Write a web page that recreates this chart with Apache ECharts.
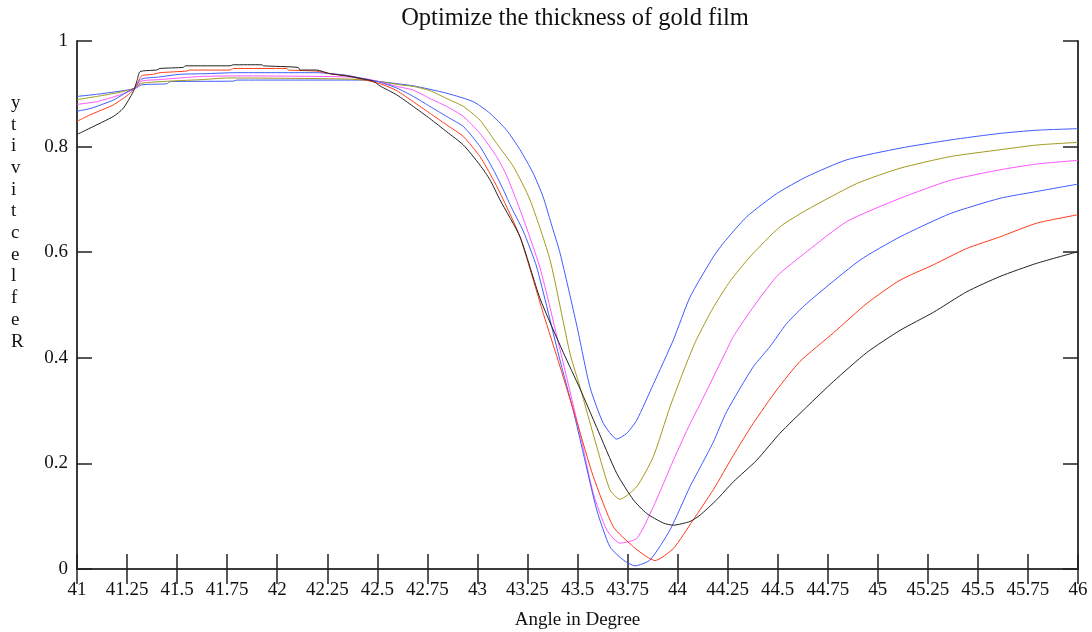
<!DOCTYPE html>
<html>
<head>
<meta charset="utf-8">
<title>Optimize the thickness of gold film</title>
<script src="https://cdn.jsdelivr.net/npm/echarts@6/dist/echarts.min.js"></script>
<style>
  html, body { margin: 0; padding: 0; background: #fff; }
  #chart { width: 1092px; height: 632px; }
</style>
</head>
<body>
<div id="chart"></div>
<script>
// Reflectivity curves vs. incidence angle (degrees), one per gold film thickness.
const angle1 = [41.0, 41.098, 41.215, 41.29, 41.323, 41.448, 41.464, 41.781, 41.798, 42.43, 42.513, 42.68, 42.847, 42.98, 43.063, 43.146, 43.213, 43.278, 43.328, 43.368, 43.413, 43.496, 43.562, 43.629, 43.696, 43.746, 43.796, 43.879, 43.979, 44.062, 44.178, 44.228, 44.345, 44.495, 44.645, 44.845, 45.111, 45.361, 45.61, 45.794, 46.0];
const refl1  = [0.895, 0.899, 0.905, 0.910, 0.917, 0.919, 0.923, 0.924, 0.926, 0.926, 0.923, 0.915, 0.901, 0.885, 0.863, 0.831, 0.794, 0.750, 0.705, 0.655, 0.598, 0.462, 0.345, 0.276, 0.246, 0.257, 0.282, 0.350, 0.434, 0.515, 0.591, 0.617, 0.667, 0.711, 0.743, 0.775, 0.797, 0.8125, 0.825, 0.831, 0.834];

const angle2 = [41.0, 41.098, 41.215, 41.29, 41.323, 41.464, 41.631, 41.748, 42.347, 42.497, 42.613, 42.68, 42.763, 42.847, 42.93, 43.013, 43.096, 43.18, 43.263, 43.363, 43.462, 43.512, 43.596, 43.662, 43.712, 43.796, 43.879, 43.962, 44.045, 44.095, 44.178, 44.262, 44.361, 44.511, 44.645, 44.895, 45.111, 45.361, 45.61, 45.794, 46.0];
const refl2  = [0.889, 0.895, 0.903, 0.911, 0.920, 0.924, 0.927, 0.930, 0.928, 0.924, 0.917, 0.914, 0.906, 0.891, 0.876, 0.850, 0.806, 0.762, 0.699, 0.585, 0.409, 0.345, 0.232, 0.150, 0.132, 0.156, 0.213, 0.307, 0.390, 0.435, 0.495, 0.545, 0.591, 0.648, 0.680, 0.730, 0.759, 0.781, 0.794, 0.803, 0.808];

const angle3 = [41.0, 41.098, 41.215, 41.29, 41.323, 41.415, 41.548, 41.631, 41.798, 42.347, 42.464, 42.597, 42.68, 42.763, 42.847, 42.93, 43.013, 43.096, 43.146, 43.221, 43.313, 43.413, 43.512, 43.579, 43.646, 43.712, 43.796, 43.879, 43.979, 44.062, 44.112, 44.245, 44.278, 44.361, 44.495, 44.645, 44.845, 45.111, 45.361, 45.61, 45.794, 46.0];
const refl3  = [0.880, 0.885, 0.898, 0.910, 0.924, 0.927, 0.931, 0.933, 0.934, 0.932, 0.927, 0.914, 0.907, 0.891, 0.876, 0.857, 0.825, 0.781, 0.745, 0.672, 0.570, 0.415, 0.257, 0.143, 0.074, 0.049, 0.058, 0.118, 0.206, 0.275, 0.312, 0.415, 0.440, 0.487, 0.554, 0.601, 0.658, 0.702, 0.736, 0.756, 0.767, 0.774];

const angle4 = [41.0, 41.065, 41.181, 41.248, 41.29, 41.323, 41.415, 41.514, 41.631, 41.798, 42.197, 42.347, 42.464, 42.513, 42.597, 42.68, 42.763, 42.847, 42.93, 43.013, 43.08, 43.13, 43.163, 43.229, 43.296, 43.412, 43.479, 43.529, 43.596, 43.662, 43.729, 43.787, 43.862, 43.962, 44.062, 44.112, 44.178, 44.245, 44.378, 44.461, 44.545, 44.645, 44.911, 45.111, 45.361, 45.61, 45.794, 46.0];
const refl4  = [0.867, 0.872, 0.888, 0.903, 0.912, 0.928, 0.932, 0.937, 0.938, 0.940, 0.940, 0.935, 0.926, 0.922, 0.911, 0.895, 0.876, 0.857, 0.838, 0.800, 0.756, 0.718, 0.690, 0.640, 0.572, 0.396, 0.300, 0.219, 0.112, 0.042, 0.017, 0.006, 0.017, 0.074, 0.156, 0.192, 0.240, 0.298, 0.383, 0.421, 0.465, 0.503, 0.585, 0.629, 0.673, 0.702, 0.715, 0.729];

const angle5 = [41.0, 41.065, 41.181, 41.265, 41.298, 41.323, 41.381, 41.415, 41.548, 41.564, 41.764, 41.781, 42.047, 42.055, 42.197, 42.264, 42.347, 42.464, 42.53, 42.597, 42.68, 42.763, 42.847, 42.93, 43.013, 43.08, 43.13, 43.213, 43.329, 43.413, 43.496, 43.579, 43.679, 43.779, 43.846, 43.887, 43.979, 44.078, 44.178, 44.278, 44.378, 44.495, 44.611, 44.778, 44.945, 45.111, 45.277, 45.444, 45.61, 45.794, 46.0];
const refl5  = [0.848, 0.860, 0.879, 0.901, 0.917, 0.934, 0.937, 0.940, 0.943, 0.945, 0.945, 0.948, 0.948, 0.945, 0.943, 0.938, 0.934, 0.924, 0.917, 0.906, 0.885, 0.863, 0.841, 0.819, 0.781, 0.737, 0.699, 0.629, 0.484, 0.383, 0.280, 0.175, 0.080, 0.042, 0.023, 0.016, 0.039, 0.093, 0.150, 0.215, 0.276, 0.339, 0.393, 0.447, 0.503, 0.547, 0.576, 0.607, 0.629, 0.655, 0.671];

const angle6 = [41.0, 41.065, 41.181, 41.23, 41.281, 41.30, 41.315, 41.398, 41.415, 41.531, 41.54, 41.764, 41.781, 41.923, 41.931, 42.105, 42.114, 42.197, 42.264, 42.347, 42.43, 42.48, 42.513, 42.597, 42.68, 42.763, 42.847, 42.93, 43.013, 43.063, 43.113, 43.213, 43.313, 43.429, 43.512, 43.596, 43.696, 43.779, 43.846, 43.929, 43.979, 44.062, 44.112, 44.195, 44.278, 44.395, 44.511, 44.645, 44.778, 44.945, 45.111, 45.277, 45.444, 45.61, 45.794, 46.0];
const refl6  = [0.823, 0.835, 0.857, 0.872, 0.904, 0.925, 0.942, 0.945, 0.948, 0.950, 0.953, 0.953, 0.955, 0.955, 0.953, 0.950, 0.945, 0.945, 0.938, 0.934, 0.928, 0.924, 0.915, 0.898, 0.876, 0.853, 0.828, 0.803, 0.765, 0.737, 0.699, 0.629, 0.512, 0.410, 0.342, 0.268, 0.181, 0.131, 0.105, 0.087, 0.083, 0.090, 0.102, 0.131, 0.165, 0.206, 0.257, 0.307, 0.355, 0.410, 0.452, 0.486, 0.525, 0.554, 0.579, 0.601];

const curveColors = ['#3d5cff', '#a39a1c', '#ff55ff', '#3d5cff', '#ff3a1a', '#222222'];

const xTickStep = 0.25;
const yTickStep = 0.2;
const titleText = 'Optimize the thickness of gold film';
const xName = 'Angle in Degree';
const yName = 'Reflectivity';

const FONT = "'Liberation Serif', 'Times New Roman', serif";

const curves = [
  [angle1, refl1], [angle2, refl2], [angle3, refl3],
  [angle4, refl4], [angle5, refl5], [angle6, refl6]
];

const chart = echarts.init(document.getElementById('chart'), null, { renderer: 'canvas' });

const axisLine = { show: true, lineStyle: { color: '#3a3a3a', width: 2 } };
const axisTick = { show: true, inside: true, length: 15, lineStyle: { color: '#222', width: 1.5 } };

chart.setOption({
  animation: false,
  backgroundColor: '#ffffff',
  grid: { left: 77, right: 14, top: 41, bottom: 63, containLabel: false, outerBoundsMode: 'none' },
  xAxis: [
    {
      type: 'value', min: 41, max: 46, interval: xTickStep, position: 'bottom',
      name: xName, nameLocation: 'middle', nameGap: 42,
      nameTextStyle: { fontFamily: FONT, fontSize: 19, color: '#111' },
      axisLine, axisTick,
      axisLabel: { fontFamily: FONT, fontSize: 19, color: '#111', margin: 12 },
      splitLine: { show: false }
    },
    {
      type: 'value', min: 41, max: 46, interval: xTickStep, position: 'top',
      axisLine, axisTick, axisLabel: { show: false }, splitLine: { show: false }
    }
  ],
  yAxis: [
    {
      type: 'value', min: 0, max: 1, interval: yTickStep, position: 'left',
      axisLine, axisTick,
      axisLabel: { fontFamily: FONT, fontSize: 19, color: '#111', margin: 9 },
      splitLine: { show: false }
    },
    {
      type: 'value', min: 0, max: 1, interval: yTickStep, position: 'right',
      axisLine, axisTick, axisLabel: { show: false }, splitLine: { show: false }
    }
  ],
  graphic: [
    {
      type: 'text',
      x: 575,
      y: 19,
      style: {
        text: titleText,
        fontFamily: FONT,
        fontSize: 24.5,
        fill: '#111',
        align: 'center',
        verticalAlign: 'middle'
      }
    },
    {
      type: 'text',
      left: 11,
      top: 92,
      style: {
        text: yName.split('').reverse().join('\n'),
        fontFamily: FONT,
        fontSize: 19,
        lineHeight: 21.7,
        fill: '#111',
        align: 'center'
      }
    }
  ],
  series: curves.map(([ang, refl], i) => ({
    type: 'line',
    name: 'film ' + (i + 1),
    data: ang.map((a, k) => [a, refl[k]]),
    showSymbol: false,
    symbol: 'none',
    smooth: 0.2,
    lineStyle: { color: curveColors[i], width: 1 },
    z: 2
  }))
});
</script>
</body>
</html>
